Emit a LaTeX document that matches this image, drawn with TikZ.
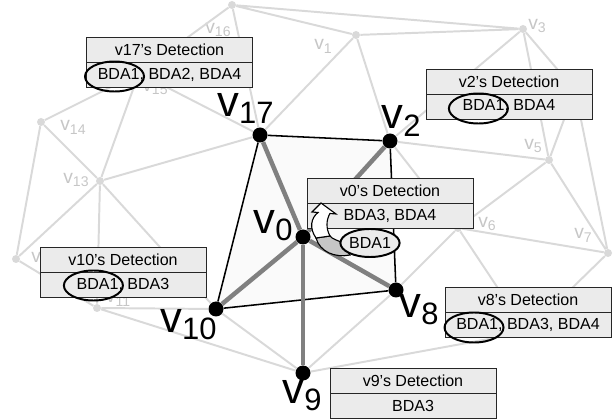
\documentclass[tikz,border=0pt]{standalone}
\usepackage{fontspec}
\setmainfont{Liberation Sans}
\usetikzlibrary{positioning, calc, backgrounds, shapes.geometric}
\definecolor{boxfill}{HTML}{EBEBEB}
\definecolor{bgline}{HTML}{D9D9D9}
\definecolor{bgtext}{HTML}{C6C6C6}
\definecolor{hopline}{HTML}{808080}
\newcommand{\boxfont}{\fontsize{11.4}{13}\selectfont}
\newcommand{\bigv}[1]{\fontsize{31}{31}\selectfont v\raisebox{-5pt}{\fontsize{22}{22}\selectfont #1}}
\newcommand{\smallv}[1]{\fontsize{13.7}{14}\selectfont v\raisebox{-2.8pt}{\fontsize{10}{10}\selectfont #1}}

\begin{document}
\begin{tikzpicture}[x=0.25mm, y=-0.25mm,
  bg/.style={bgline, line width=1.4pt},
  bgdot/.style={circle, fill=bgline, inner sep=0pt, minimum size=2mm},
  bglab/.style={text=bgtext, inner sep=0pt},
  vtx/.style={circle, fill=black, inner sep=0pt, minimum size=3.75mm},
  vlab/.style={inner sep=0pt},
  link/.style={black, line width=1.1pt},
  hop/.style={hopline, line width=3.2pt},
  head/.style={draw=black!85, fill=boxfill, line width=0.7pt, outer sep=0pt,
               minimum width=41.5mm, minimum height=6.25mm, inner sep=0pt, font=\boxfont},
  row/.style={head},
  entry/.style={inner sep=0pt, font=\boxfont},
  ring/.style={ellipse, draw=black, line width=1.4pt, minimum width=14.75mm,
               minimum height=7.5mm, inner sep=0pt},
]
\useasboundingbox (0,0) rectangle (615,419);

% background mesh vertices
\node[bgdot] (v1) at (356,35) {};
\node[bgdot] (v3) at (523,29) {};
\coordinate (v4) at (575,90);
\node[bgdot] (v5) at (549,160) {};
\node[bgdot] (v6) at (458,228) {};
\node[bgdot] (v7) at (608,253) {};
\coordinate (vx) at (527,332);
\node[bgdot] (v11) at (97,308) {};
\node[bgdot] (v12) at (16,259) {};
\node[bgdot] (v13) at (100,181) {};
\node[bgdot] (v14) at (41,122) {};
\node[bgdot] (v15) at (139,73) {};
\node[bgdot] (v16) at (232,5) {};

\node[bglab] (n1) at (323,46) {\smallv{1}};
\node[bglab] (n3) at (537,26) {\smallv{3}};
\node[bglab] (n5) at (533,146) {\smallv{5}};
\node[bglab] (n6) at (487,224) {\smallv{6}};
\node[bglab] (n7) at (583,235) {\smallv{7}};
\node[bglab] (n11) at (118,299) {\smallv{11}};
\node[bglab] (n12) at (44,259) {\smallv{12}};
\node[bglab] (n13) at (76,180) {\smallv{13}};
\node[bglab] (n14) at (73,127) {\smallv{14}};
\node[bglab] (n15) at (155,88) {\smallv{15}};
\node[bglab] (n16) at (218,30) {\smallv{16}};

% nodes on the route
\node[vtx] (v17) at (260,135) {};
\node[vtx] (v2) at (390,141) {};
\node[vtx] (v0) at (303,237) {};
\node[vtx] (v10) at (216,309) {};
\node[vtx] (v8) at (396,290) {};
\node[vtx] (v9) at (303,373) {};

% background mesh edges
\draw[bg] (v16) -- (v1) (v16) -- (v3) (v1) -- (v3) (v16) -- (v15)
  (v16) -- (v17) (v1) -- (v17) (v1) -- (v2) (v3) -- (v2);
\draw[bg] (v3) -- (v4) (v3) -- (v5) (v4) -- (v5) (v4) -- (v7)
  (v2) -- (v5) (v2) -- (v6) (v5) -- (v6) (v5) -- (v7) (v6) -- (v7);
\draw[bg] (v6) -- (v8) (v6) -- (vx) (v7) -- (vx) (v9) -- (vx)
  (v8) -- (v9) (v10) -- (v9) (v11) -- (v9) (v11) -- (v10);
\draw[bg] (v12) -- (v11) (v13) -- (v11) (v13) -- (v10) (v13) -- (v12)
  (v14) -- (v12) (v14) -- (v13) (v15) -- (v14) (v15) -- (v13)
  (v15) -- (v17) (v13) -- (v17);

% one-hop region
\begin{scope}[on background layer]
  \fill[gray!4] (v17.center) -- (v2.center) -- (v8.center) -- (v10.center) -- cycle;
\end{scope}
\draw[link] (v17) -- (v2) -- (v8) -- (v10) -- (v17);
\draw[hop] (v0) -- (v17);
\draw[hop] (v0) -- (v2);
\draw[hop] (v0) -- (v10);
\draw[hop] (v0) -- (v8);
\draw[hop] (v0) -- (v9);

% detection tables
\node[head] (h17) at (169.5,49.5) {v17's Detection};
\node[row, below=0pt of h17] (r17) {};
\node[entry] (t17) at (r17) {BDA1, BDA2, BDA4};
\node[ring] (c17) at ($(t17.west)+(17,2)$) {};

\node[head] (h2) at (509,81.5) {v2's Detection};
\node[row, below=0pt of h2] (r2) {};
\node[entry] (t2) at (r2) {BDA1, BDA4};
\node[ring] (c2) at ($(t2.west)+(16,2)$) {};

\node[head] (h0) at (390,190.5) {v0's Detection};
\node[row, below=0pt of h0] (r0) {};
\node[entry] (t0) at (r0) {BDA3, BDA4};

\node[head] (h10) at (123,259.5) {v10's Detection};
\node[row, below=0pt of h10] (r10) {};
\node[entry] (t10) at (r10) {BDA1, BDA3};
\node[ring] (c10) at ($(t10.west)+(17,1)$) {};

\node[head] (h8) at (528,299.5) {v8's Detection};
\node[row, below=0pt of h8] (r8) {};
\node[entry] (t8) at (r8) {BDA1, BDA3, BDA4};
\node[ring] (c8) at ($(t8.west)+(18,3)$) {};

\node[head] (h9) at (413,380.5) {v9's Detection};
\node[row, below=0pt of h9] (r9) {};
\node[entry] (t9) at (r9) {BDA3};

% route labels
\node[vlab] (l17) at (245.5,108.5) {\bigv{17}};
\node[vlab] (l2) at (401,121) {\bigv{2}};
\node[vlab] (l0) at (273,226) {\bigv{0}};
\node[vlab] (l10) at (188.5,325) {\bigv{10}};
\node[vlab] (l8) at (419,310) {\bigv{8}};
\node[vlab] (l9) at (302,396) {\bigv{9}};

% BDA1 joins v0's list
\filldraw[fill=gray!45, draw=black, line width=0.8pt]
  (316,238) .. controls (320,252) and (335,258) .. (350,255)
  -- (343,243) .. controls (337,240) and (332,239) .. (330,236) -- cycle;
\filldraw[fill=white, draw=black, line width=0.8pt]
  (316,238) .. controls (309,228) and (311,218) .. (318,212.5)
  -- (312,212) -- (321,203) -- (336,214) -- (330,213.5)
  .. controls (326,220) and (326,229) .. (330,236) -- cycle;
\node[ring, fill=boxfill, font=\boxfont, minimum width=14.25mm,
      minimum height=7mm] (c0) at (370,243) {BDA1};

\end{tikzpicture}
\end{document}
